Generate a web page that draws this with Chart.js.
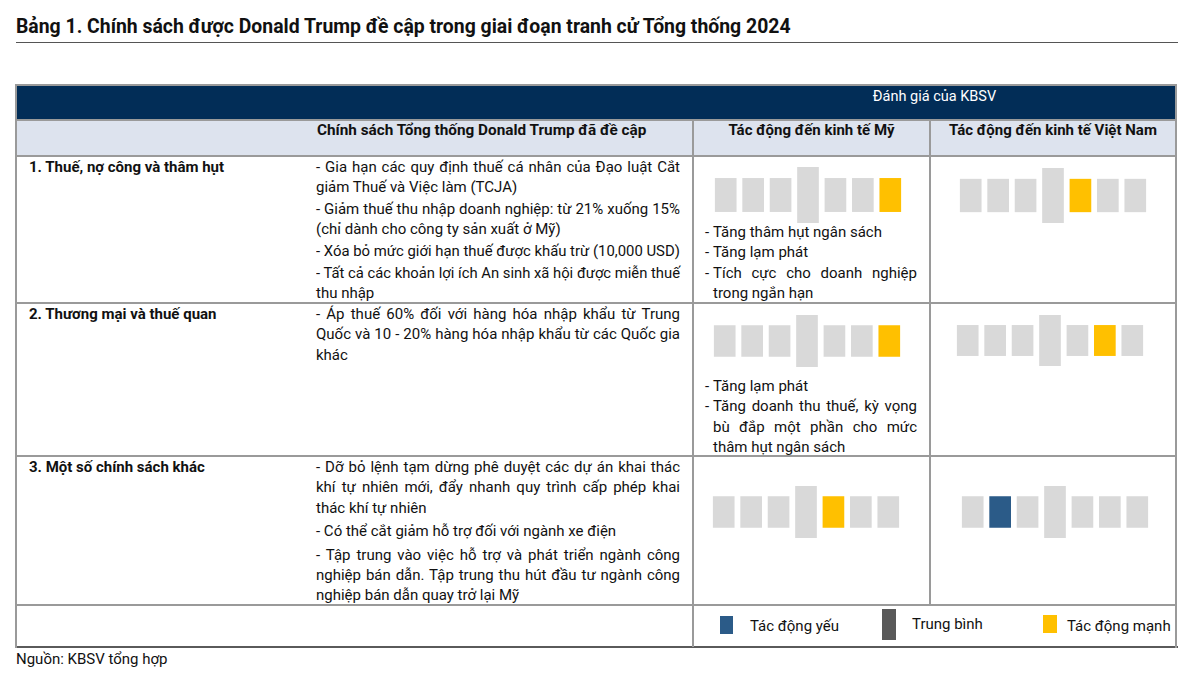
<!DOCTYPE html>
<html lang="vi">
<head>
<meta charset="utf-8">
<title>Bảng 1</title>
<script src="https://cdn.jsdelivr.net/npm/chart.js@4.4.1/dist/chart.umd.min.js"></script>
<style>
  html, body { margin: 0; padding: 0; background: #fff; }
  body {
    width: 1200px; height: 676px; position: relative; overflow: hidden;
    font-family: Roboto, "Noto Sans", sans-serif; color: #111;
  }
  .abs { position: absolute; white-space: nowrap; }
  .title { left: 16px; top: 14px; font-size: 19.4px; font-weight: 700; line-height: 26px; }
  .line { position: absolute; height: 1px; background: #9a9a9a; }
  .vline { position: absolute; width: 2px; background: #9a9a9a; }
  .txt { position: absolute; font-size: 15px; line-height: 20.4px; }
  .txt div { white-space: nowrap; overflow: visible; }
  .txt .just { text-align: justify; text-align-last: justify; }
  .bold { font-weight: 700; }
  canvas.gauge { position: absolute; }
  .sw { position: absolute; }
</style>
</head>
<body>
<script>
// -----------------------------
// Data
// -----------------------------
const titleText = "Bảng 1. Chính sách được Donald Trump đề cập trong giai đoạn tranh cử Tổng thống 2024";
const sourceText = "Nguồn: KBSV tổng hợp";
const headerTop = "Đánh giá của KBSV";
const headerCols = ["Chính sách Tổng thống Donald Trump đã đề cập", "Tác động đến kinh tế Mỹ", "Tác động đến kinh tế Việt Nam"];

const rowLabels = ["1. Thuế, nợ công và thâm hụt", "2. Thương mại và thuế quan", "3. Một số chính sách khác"];

const policyRow1 = [
  ["- Gia hạn các quy định thuế cá nhân của Đạo luật Cắt", "giảm Thuế và Việc làm (TCJA)"],
  ["- Giảm thuế thu nhập doanh nghiệp: từ 21% xuống 15%", "(chỉ dành cho công ty sản xuất ở Mỹ)"],
  ["- Xóa bỏ mức giới hạn thuế được khấu trừ (10,000 USD)"],
  ["- Tất cả các khoản lợi ích An sinh xã hội được miễn thuế", "thu nhập"]
];
const policyRow2 = [
  ["- Áp thuế 60% đối với hàng hóa nhập khẩu từ Trung", "Quốc và 10 - 20% hàng hóa nhập khẩu từ các Quốc gia", "khác"]
];
const policyRow3 = [
  ["- Dỡ bỏ lệnh tạm dừng phê duyệt các dự án khai thác", "khí tự nhiên mới, đẩy nhanh quy trình cấp phép khai", "thác khí tự nhiên"],
  ["- Có thể cắt giảm hỗ trợ đối với ngành xe điện"],
  ["- Tập trung vào việc hỗ trợ và phát triển ngành công", "nghiệp bán dẫn. Tập trung thu hút đầu tư ngành công", "nghiệp bán dẫn quay trở lại Mỹ"]
];

const usNotesRow1 = [["Tăng thâm hụt ngân sách"], ["Tăng lạm phát"], ["Tích cực cho doanh nghiệp", "trong ngắn hạn"]];
const usNotesRow2 = [["Tăng lạm phát"], ["Tăng doanh thu thuế, kỳ vọng", "bù đắp một phần cho mức", "thâm hụt ngân sách"]];
const usNotesRow3 = [];

// gauge: 7 scale steps, middle step is the neutral marker
const gaugeSteps = ["1", "2", "3", "4", "5", "6", "7"];
const gaugeLow  = [-1, -1, -1, -1.65, -1, -1, -1];
const gaugeHigh = [ 1,  1,  1,  1.65,  1,  1,  1];

// highlighted step (0-based) and level for each row
const usMark = [6, 6, 4];
const usLevel = ["strong", "strong", "strong"];
const vnMark = [4, 5, 1];
const vnLevel = ["strong", "strong", "weak"];

const legendLabels = ["Tác động yếu", "Trung bình", "Tác động mạnh"];

// -----------------------------
// Styles
// -----------------------------
const COL_BASE = "#d9d9d9";
const COL_WEAK = "#2b5b88";
const COL_MID = "#595959";
const COL_STRONG = "#ffc000";
const levelColor = { weak: COL_WEAK, mid: COL_MID, strong: COL_STRONG };

function el(tag, cls, css, text) {
  const e = document.createElement(tag);
  if (cls) e.className = cls;
  if (css) Object.assign(e.style, css);
  if (text != null) e.textContent = text;
  document.body.appendChild(e);
  return e;
}

// fit a line into its box if the font runs a bit wide
function fitLine(d) {
  const w = d.parentNode.clientWidth;
  if (d.scrollWidth > w + 0.5) {
    d.style.textAlignLast = "left";
    d.style.width = d.scrollWidth + "px";
    d.style.transformOrigin = "left center";
    d.style.transform = `scaleX(${w / d.scrollWidth})`;
  }
}

function textBlock(paras, left, top, width, gap, dashLeft) {
  const box = el("div", "txt", { left: left + "px", top: top + "px", width: width + "px" });
  paras.forEach((lines, pi) => {
    lines.forEach((ln, li) => {
      const d = document.createElement("div");
      d.textContent = ln;
      if (li < lines.length - 1) d.className = "just";
      if (pi > 0 && li === 0) d.style.marginTop = gap + "px";
      box.appendChild(d);
      if (dashLeft != null && li === 0) {
        const dash = document.createElement("span");
        dash.textContent = "-";
        Object.assign(dash.style, { position: "absolute", left: (dashLeft - left) + "px" });
        d.style.position = "relative";
        d.insertBefore(dash, d.firstChild);
      }
    });
  });
  return box;
}

// -----------------------------
// Table frame
// -----------------------------
el("div", "abs title", null, titleText);
el("div", "line", { left: "16px", top: "42px", width: "1162px", background: "#555" });

el("div", "abs", { left: "16px", top: "84px", width: "1161px", height: "35px", background: "#022d57" });
el("div", "abs", { left: "16px", top: "119px", width: "1161px", height: "36px", background: "#dde3ee" });

[84, 119, 155, 302, 455, 604].forEach(y =>
  el("div", "line", { left: "16px", top: y + "px", width: "1161px", height: "2px" }));
el("div", "line", { left: "16px", top: "646px", width: "1162px", height: "2px", background: "#5a5a5a" });
el("div", "vline", { left: "15px", top: "84px", height: "564px" });
el("div", "vline", { left: "1175px", top: "84px", height: "564px" });
el("div", "vline", { left: "692px", top: "119px", height: "528px" });
el("div", "vline", { left: "929px", top: "119px", height: "486px" });

// headers
el("div", "abs", { left: "693px", width: "483px", top: "87px", textAlign: "center",
  color: "#fff", fontSize: "14.5px", lineHeight: "20px" }, headerTop);
el("div", "abs bold", { left: "317px", top: "120px", fontSize: "15.3px", lineHeight: "20px" }, headerCols[0]);
el("div", "abs bold", { left: "693px", width: "237px", top: "120px", textAlign: "center", fontSize: "15px", lineHeight: "20px" }, headerCols[1]);
el("div", "abs bold", { left: "930px", width: "246px", top: "120px", textAlign: "center", fontSize: "15px", lineHeight: "20px" }, headerCols[2]);

// rows
const rowTextTop = [157, 304, 457];
rowLabels.forEach((lab, i) =>
  el("div", "abs bold", { left: "29px", top: rowTextTop[i] + "px", fontSize: "15px", lineHeight: "20.4px" }, lab));

const blocks = [];
blocks.push(textBlock(policyRow1, 316, rowTextTop[0], 364, 1.2));
blocks.push(textBlock(policyRow2, 316, rowTextTop[1], 364, 1.2));
blocks.push(textBlock(policyRow3, 316, rowTextTop[2], 364, 3));
blocks.push(textBlock(usNotesRow1, 713, 222, 204, 0, 705));
blocks.push(textBlock(usNotesRow2, 713, 376, 204, 0, 705));
blocks.push(textBlock(usNotesRow3, 713, 530, 204, 0, 705));
blocks.forEach(b => b.querySelectorAll("div").forEach(fitLine));

// -----------------------------
// Gauges (Chart.js floating bars)
// -----------------------------
function gauge(left, top, h, mark, level) {
  const c = el("canvas", "gauge", { left: left + "px", top: top + "px" });
  c.width = 192; c.height = h;
  const colors = gaugeSteps.map((s, i) => (i === mark ? levelColor[level] : COL_BASE));
  new Chart(c, {
    type: "bar",
    data: {
      labels: gaugeSteps,
      datasets: [{
        data: gaugeLow.map((lo, i) => [lo, gaugeHigh[i]]),
        backgroundColor: colors,
        borderWidth: 0,
        borderSkipped: false,
        barPercentage: 0.79,
        categoryPercentage: 1
      }]
    },
    options: {
      responsive: false,
      animation: false,
      layout: { padding: 0 },
      plugins: { legend: { display: false }, tooltip: { enabled: false } },
      scales: {
        x: { display: false, grid: { display: false } },
        y: { display: false, min: -1.65, max: 1.65 }
      }
    }
  });
}

gauge(712, 167, 56, usMark[0], usLevel[0]);
gauge(957, 168, 55, vnMark[0], vnLevel[0]);
gauge(711, 315, 52, usMark[1], usLevel[1]);
gauge(954, 315, 51, vnMark[1], vnLevel[1]);
gauge(710, 486, 52, usMark[2], usLevel[2]);
gauge(959, 486, 52, vnMark[2], vnLevel[2]);

// -----------------------------
// Legend row
// -----------------------------
el("div", "sw", { left: "720px", top: "616px", width: "13px", height: "18px", background: COL_WEAK });
el("div", "sw", { left: "882px", top: "609px", width: "14px", height: "31px", background: COL_MID });
el("div", "sw", { left: "1043px", top: "615px", width: "14px", height: "18px", background: COL_STRONG });
el("div", "abs", { left: "750px", top: "616px", fontSize: "15px", lineHeight: "20px" }, legendLabels[0]);
el("div", "abs", { left: "912px", top: "614px", fontSize: "15px", lineHeight: "20px" }, legendLabels[1]);
el("div", "abs", { left: "1067px", top: "616px", fontSize: "15px", lineHeight: "20px" }, legendLabels[2]);

el("div", "abs", { left: "16px", top: "649px", fontSize: "15px", lineHeight: "20px" }, sourceText);
</script>
</body>
</html>
